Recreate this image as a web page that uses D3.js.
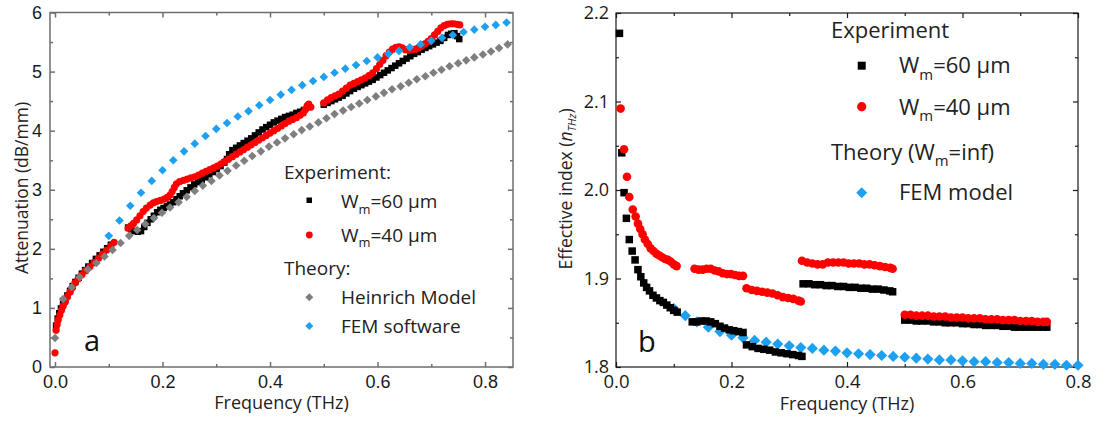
<!DOCTYPE html>
<html><head><meta charset="utf-8">
<script src="https://cdn.jsdelivr.net/npm/d3@7"></script>
<style>body{margin:0;background:#fff}svg{display:block}</style>
</head><body>
<svg id="chart" width="1103" height="421"></svg>
<script>
// ---------------- DATA: panel a (attenuation, dB/mm vs THz) ----------------
const xTicksMajorA = [0, 0.2, 0.4, 0.6, 0.8];
const xTicksMinorA = [0.1, 0.3, 0.5, 0.7];
const yTicksMajorA = [0, 1, 2, 3, 4, 5, 6];
const yTicksMinorA = [0.5, 1.5, 2.5, 3.5, 4.5, 5.5];

const exp60Attenuation = [
 [0.002,0.70],[0.005,0.82],[0.008,0.91],[0.011,0.99],[0.015,1.07],[0.019,1.14],[0.023,1.21],[0.028,1.29],[0.033,1.37],[0.038,1.44],
 [0.044,1.51],[0.050,1.58],[0.056,1.64],[0.062,1.70],[0.069,1.76],[0.076,1.83],[0.083,1.89],[0.090,1.95],[0.097,2.01],[0.104,2.07],
 [0.136,2.36],[0.142,2.33],[0.148,2.30],[0.154,2.29],[0.160,2.30],[0.166,2.37],[0.172,2.44],[0.178,2.50],[0.184,2.56],[0.190,2.62],
 [0.196,2.66],[0.202,2.69],[0.208,2.72],[0.214,2.75],[0.220,2.79],[0.226,2.84],[0.232,2.89],[0.238,2.94],[0.245,2.99],[0.252,3.04],
 [0.259,3.09],[0.266,3.13],[0.273,3.17],[0.280,3.21],[0.287,3.26],[0.294,3.30],[0.301,3.35],[0.308,3.40],[0.315,3.46],[0.320,3.52],
 [0.324,3.60],[0.330,3.67],[0.337,3.71],[0.344,3.75],[0.351,3.79],[0.358,3.83],[0.365,3.87],[0.372,3.92],[0.379,3.97],[0.386,4.02],
 [0.393,4.06],[0.400,4.10],[0.407,4.14],[0.414,4.17],[0.421,4.20],[0.428,4.23],[0.435,4.25],[0.442,4.27],[0.449,4.30],[0.456,4.32],
 [0.463,4.35],[0.470,4.40],
 [0.500,4.44],[0.507,4.47],[0.514,4.50],[0.521,4.53],[0.528,4.56],[0.535,4.59],[0.542,4.63],[0.549,4.67],[0.556,4.71],[0.563,4.74],
 [0.570,4.77],[0.577,4.80],[0.584,4.83],[0.591,4.86],[0.598,4.90],[0.605,4.94],[0.612,4.98],[0.619,5.02],[0.626,5.06],[0.633,5.10],
 [0.640,5.14],[0.647,5.18],[0.654,5.22],[0.661,5.26],[0.668,5.30],[0.675,5.33],[0.682,5.37],[0.689,5.40],[0.696,5.43],[0.703,5.46],
 [0.710,5.49],[0.717,5.52],[0.724,5.57],[0.731,5.62],[0.737,5.64],[0.743,5.65],[0.748,5.60],[0.752,5.55]
];
const exp40Attenuation = [
 [0.000,0.24],[0.002,0.62],[0.004,0.72],[0.006,0.80],[0.009,0.88],[0.012,0.96],[0.015,1.03],[0.019,1.10],[0.023,1.19],[0.028,1.27],
 [0.032,1.34],[0.037,1.42],[0.043,1.49],[0.050,1.56],[0.057,1.63],[0.065,1.70],[0.073,1.77],[0.081,1.84],[0.088,1.91],[0.096,1.98],
 [0.104,2.05],[0.110,2.11],
 [0.136,2.35],[0.141,2.39],[0.146,2.43],[0.152,2.49],[0.158,2.56],[0.164,2.63],[0.170,2.69],[0.177,2.74],[0.183,2.78],[0.189,2.80],
 [0.196,2.82],[0.203,2.84],[0.209,2.87],[0.214,2.91],[0.218,2.97],[0.222,3.04],[0.226,3.10],[0.232,3.14],[0.239,3.16],[0.246,3.18],
 [0.253,3.20],[0.260,3.22],[0.267,3.25],[0.274,3.28],[0.281,3.31],[0.288,3.34],[0.295,3.37],[0.302,3.40],[0.309,3.44],[0.316,3.48],
 [0.323,3.52],[0.330,3.56],[0.337,3.60],[0.344,3.64],[0.351,3.68],[0.358,3.72],[0.365,3.76],[0.372,3.80],[0.379,3.84],[0.386,3.88],
 [0.393,3.92],[0.400,3.96],[0.407,4.00],[0.414,4.04],[0.421,4.08],[0.428,4.12],[0.435,4.16],[0.442,4.19],[0.449,4.22],[0.456,4.26],
 [0.462,4.30],[0.466,4.36],[0.469,4.42],[0.472,4.45],[0.476,4.40],
 [0.500,4.47],[0.507,4.52],[0.514,4.56],[0.521,4.59],[0.528,4.62],[0.535,4.67],[0.542,4.72],[0.549,4.77],[0.556,4.80],[0.563,4.83],
 [0.570,4.86],[0.577,4.89],[0.584,4.93],[0.591,4.98],[0.598,5.05],[0.604,5.12],[0.610,5.19],[0.616,5.27],[0.622,5.33],[0.628,5.38],
 [0.634,5.41],[0.640,5.42],[0.646,5.40],[0.652,5.37],[0.658,5.36],[0.664,5.37],[0.670,5.38],[0.676,5.40],[0.682,5.43],[0.688,5.47],
 [0.694,5.51],[0.700,5.56],[0.706,5.62],[0.712,5.68],[0.718,5.74],[0.724,5.78],[0.730,5.80],[0.736,5.81],[0.742,5.81],[0.748,5.80],
 [0.753,5.79]
];
const heinrichAttenuation = [
 [0.000,0.49],[0.015,1.15],[0.031,1.35],[0.046,1.52],[0.061,1.65],[0.077,1.76],[0.092,1.87],[0.107,1.98],[0.122,2.10],[0.138,2.22],
 [0.153,2.32],[0.168,2.42],[0.184,2.52],[0.199,2.61],[0.214,2.70],[0.230,2.79],[0.245,2.88],[0.260,2.98],[0.275,3.07],[0.291,3.15],
 [0.306,3.24],[0.321,3.32],[0.337,3.41],[0.352,3.49],[0.367,3.57],[0.383,3.65],[0.398,3.73],[0.413,3.80],[0.428,3.87],[0.444,3.94],
 [0.459,4.01],[0.474,4.07],[0.490,4.14],[0.505,4.21],[0.520,4.28],[0.536,4.34],[0.551,4.40],[0.566,4.46],[0.581,4.52],[0.597,4.58],
 [0.612,4.64],[0.627,4.70],[0.643,4.75],[0.658,4.81],[0.673,4.87],[0.689,4.92],[0.704,4.98],[0.719,5.03],[0.734,5.09],[0.750,5.14],
 [0.765,5.19],[0.780,5.24],[0.796,5.29],[0.811,5.34],[0.826,5.40],[0.842,5.46]
];
const femAttenuation = [
 [0.10,2.22],[0.12,2.48],[0.14,2.73],[0.16,2.95],[0.18,3.15],[0.20,3.33],[0.22,3.50],[0.24,3.65],[0.26,3.78],[0.28,3.91],
 [0.30,4.03],[0.32,4.13],[0.34,4.24],[0.36,4.33],[0.38,4.43],[0.40,4.52],[0.42,4.61],[0.44,4.69],[0.46,4.77],[0.48,4.84],
 [0.50,4.91],[0.52,4.98],[0.54,5.05],[0.56,5.11],[0.58,5.18],[0.60,5.24],[0.62,5.30],[0.64,5.35],[0.66,5.41],[0.68,5.46],
 [0.70,5.52],[0.72,5.57],[0.74,5.62],[0.76,5.67],[0.78,5.71],[0.80,5.76],[0.82,5.79],[0.84,5.83]
];

// ---------------- DATA: panel b (effective index vs THz) ----------------
const xTicksMajorB = [0, 0.2, 0.4, 0.6, 0.8];
const xTicksMinorB = [0.1, 0.3, 0.5, 0.7];
const yTicksMajorB = [1.8, 1.9, 2.0, 2.1, 2.2];
const yTicksMinorB = [1.85, 1.95, 2.05, 2.15];

const exp60Index = [
 [0.006,2.177],[0.010,2.042],[0.014,1.997],[0.018,1.968],[0.023,1.944],[0.028,1.931],[0.033,1.921],[0.038,1.910],[0.043,1.902],[0.048,1.895],
 [0.053,1.890],[0.058,1.886],[0.064,1.881],[0.070,1.878],[0.076,1.875],[0.082,1.873],[0.088,1.870],[0.094,1.867],[0.100,1.864],[0.106,1.862],
 [0.132,1.851],[0.140,1.851],[0.148,1.852],[0.156,1.852],[0.164,1.851],[0.172,1.849],[0.180,1.846],[0.188,1.844],[0.196,1.842],[0.204,1.841],
 [0.212,1.840],[0.220,1.839],
 [0.226,1.825],[0.236,1.823],[0.246,1.821],[0.256,1.820],[0.266,1.819],[0.276,1.817],[0.286,1.816],[0.296,1.815],[0.306,1.814],[0.316,1.813],
 [0.322,1.812],
 [0.324,1.894],[0.334,1.894],[0.344,1.893],[0.354,1.893],[0.364,1.892],[0.374,1.892],[0.384,1.891],[0.394,1.891],[0.404,1.890],[0.414,1.890],
 [0.424,1.889],[0.434,1.889],[0.444,1.888],[0.454,1.888],[0.464,1.887],[0.474,1.886],[0.479,1.885],
 [0.500,1.853],[0.510,1.853],[0.520,1.852],[0.530,1.852],[0.540,1.852],[0.550,1.851],[0.560,1.851],[0.570,1.850],[0.580,1.850],[0.590,1.850],
 [0.600,1.849],[0.610,1.849],[0.620,1.848],[0.630,1.848],[0.640,1.847],[0.650,1.847],[0.660,1.847],[0.670,1.846],[0.680,1.846],[0.690,1.845],
 [0.700,1.845],[0.710,1.845],[0.720,1.845],[0.730,1.845],[0.740,1.845],[0.746,1.845]
];
const exp40Index = [
 [0.008,2.092],[0.014,2.046],[0.019,2.015],[0.023,1.992],[0.029,1.978],[0.034,1.970],[0.038,1.962],[0.042,1.956],[0.046,1.950],[0.050,1.944],
 [0.055,1.939],[0.060,1.934],[0.065,1.931],[0.070,1.928],[0.075,1.926],[0.080,1.924],[0.085,1.922],[0.090,1.921],[0.095,1.919],[0.100,1.916],
 [0.105,1.914],
 [0.136,1.911],[0.143,1.910],[0.150,1.910],[0.157,1.911],[0.164,1.911],[0.171,1.909],[0.178,1.908],[0.185,1.906],[0.192,1.905],[0.199,1.905],
 [0.206,1.904],[0.213,1.903],[0.220,1.903],
 [0.226,1.889],[0.235,1.887],[0.244,1.886],[0.253,1.885],[0.262,1.884],[0.271,1.883],[0.280,1.881],[0.289,1.879],[0.298,1.878],[0.307,1.877],
 [0.316,1.875],[0.320,1.874],
 [0.322,1.920],[0.331,1.918],[0.340,1.917],[0.349,1.916],[0.358,1.916],[0.367,1.918],[0.376,1.918],[0.385,1.918],[0.394,1.918],[0.403,1.917],
 [0.412,1.917],[0.421,1.917],[0.430,1.916],[0.439,1.916],[0.448,1.915],[0.457,1.914],[0.466,1.913],[0.475,1.912],[0.479,1.911],
 [0.500,1.859],[0.510,1.859],[0.520,1.858],[0.530,1.858],[0.540,1.858],[0.550,1.857],[0.560,1.857],[0.570,1.857],[0.580,1.856],[0.590,1.856],
 [0.600,1.856],[0.610,1.855],[0.620,1.855],[0.630,1.855],[0.640,1.854],[0.650,1.854],[0.660,1.854],[0.670,1.853],[0.680,1.853],[0.690,1.853],
 [0.700,1.852],[0.710,1.852],[0.720,1.852],[0.730,1.851],[0.740,1.851],[0.746,1.851]
];
const femIndex = [
 [0.10,1.866],[0.12,1.858],[0.14,1.851],[0.16,1.845],[0.18,1.840],[0.20,1.836],[0.22,1.833],[0.24,1.830],[0.26,1.828],[0.28,1.826],
 [0.30,1.824],[0.32,1.822],[0.34,1.821],[0.36,1.819],[0.38,1.818],[0.40,1.816],[0.42,1.815],[0.44,1.814],[0.46,1.813],[0.48,1.812],
 [0.50,1.811],[0.52,1.810],[0.54,1.809],[0.56,1.808],[0.58,1.808],[0.60,1.807],[0.62,1.806],[0.64,1.806],[0.66,1.805],[0.68,1.805],
 [0.70,1.804],[0.72,1.804],[0.74,1.803],[0.76,1.803],[0.78,1.802],[0.80,1.802]
];

// ---------------- DRAWING ----------------
const BLACK = "#000000", RED = "#ff0000", GRAY = "#7f7f7f", BLUE = "#1ea0f2";
const svg = d3.select("#chart");
svg.append("rect").attr("width", 1103).attr("height", 421).attr("fill", "#fff");

const diamondPath = h => `M0,${-h}L${h},0L0,${h}L${-h},0Z`;
const sansTitle = "'Open Sans', 'Noto Sans', sans-serif";
const arial = "'Liberation Sans', Arial, sans-serif";

function styleAxis(g, color, width, font, size) {
  g.select(".domain").remove();
  g.selectAll(".tick line").attr("stroke", color).attr("stroke-width", width);
  g.selectAll("text").attr("font-family", font).attr("font-size", size).attr("fill", "#1a1a1a");
}

function panelAxes(x, y, o) {
  const [x0, x1] = x.range(), [y0, y1] = y.range();
  const ax = svg.append("g");
  const add = (axis, tr, vals, size, fmt, pad, fs) => {
    ax.append("g").attr("transform", tr)
      .call(axis.tickValues(vals).tickSize(-size).tickPadding(pad).tickFormat(fmt))
      .call(g => styleAxis(g, o.color, o.width, o.font, fs));
  };
  const none = () => "";
  add(d3.axisBottom(x), `translate(0,${y0})`, o.xMajor, 5, o.xFmt, o.xPad, o.xFontSize);
  add(d3.axisBottom(x), `translate(0,${y0})`, o.xMinor, 3, none, 0, 10);
  add(d3.axisTop(x), `translate(0,${y1})`, o.xMajor, 5, none, 0, 10);
  add(d3.axisTop(x), `translate(0,${y1})`, o.xMinor, 3, none, 0, 10);
  add(d3.axisLeft(y), `translate(${x0},0)`, o.yMajor, 5, o.yFmt, o.yPad, o.yFontSize);
  add(d3.axisLeft(y), `translate(${x0},0)`, o.yMinor, 3, none, 0, 10);
  add(d3.axisRight(y), `translate(${x1},0)`, o.yMajor, 5, none, 0, 10);
  add(d3.axisRight(y), `translate(${x1},0)`, o.yMinor, 3, none, 0, 10);
  svg.append("rect").attr("x", x0).attr("y", y1).attr("width", x1 - x0).attr("height", y0 - y1)
    .attr("fill", "none").attr("stroke", o.color).attr("stroke-width", o.width);
}

function squares(data, x, y, s, color) {
  svg.append("g").selectAll("rect").data(data).join("rect")
    .attr("x", d => x(d[0]) - s / 2).attr("y", d => y(d[1]) - s / 2)
    .attr("width", s).attr("height", s).attr("fill", color);
}
function circles(data, x, y, r, color) {
  svg.append("g").selectAll("circle").data(data).join("circle")
    .attr("cx", d => x(d[0])).attr("cy", d => y(d[1])).attr("r", r).attr("fill", color);
}
function diamonds(data, x, y, h, color) {
  svg.append("g").selectAll("path").data(data).join("path")
    .attr("transform", d => `translate(${x(d[0])},${y(d[1])})`)
    .attr("d", diamondPath(h)).attr("fill", color);
}

// ---- Panel a ----
const xA = d3.scaleLinear().domain([-0.0093, 0.852]).range([50, 513]);
const yA = d3.scaleLinear().domain([0, 6]).range([367, 12.5]);
panelAxes(xA, yA, {color: "#6e6e6e", width: 1.5, font: arial, xFontSize: 18, yFontSize: 18,
  xMajor: xTicksMajorA, xMinor: xTicksMinorA, yMajor: yTicksMajorA, yMinor: yTicksMinorA,
  xFmt: d3.format(".1f"), yFmt: d3.format("d"), xPad: 8, yPad: 8});

squares(exp60Attenuation, xA, yA, 6.5, BLACK);
circles(exp40Attenuation, xA, yA, 3.6, RED);
diamonds(heinrichAttenuation, xA, yA, 4.3, GRAY);
diamonds(femAttenuation, xA, yA, 4.3, BLUE);

svg.append("text").attr("x", 281.5).attr("y", 409).attr("text-anchor", "middle")
  .attr("font-family", sansTitle).attr("font-size", 18).attr("fill", "#222").text("Frequency (THz)");
svg.append("text").attr("transform", "translate(28,188) rotate(-90)").attr("text-anchor", "middle")
  .attr("font-family", sansTitle).attr("font-size", 17.5).attr("fill", "#222").text("Attenuation (dB/mm)");
svg.append("text").attr("x", 84).attr("y", 351).attr("font-family", sansTitle).attr("font-size", 29)
  .attr("fill", "#111").text("a");

// legend helper
function legendText(x, y, size, parts) {
  const t = svg.append("text").attr("x", x).attr("y", y).attr("font-family", sansTitle)
    .attr("font-size", size).attr("fill", "#222");
  parts.forEach(p => {
    const ts = t.append("tspan").text(p.t);
    if (p.sub) ts.attr("font-size", size * 0.68).attr("dy", size * 0.3);
    if (p.up) ts.attr("dy", -size * 0.3);
  });
  return t;
}
const legA = 19;
legendText(284, 178.5, legA, [{t: "Experiment:"}]);
legendText(341, 208, legA, [{t: "W"}, {t: "m", sub: true}, {t: "=60 μm", up: true}]);
legendText(341, 241.5, legA, [{t: "W"}, {t: "m", sub: true}, {t: "=40 μm", up: true}]);
legendText(284, 275, legA, [{t: "Theory:"}]);
legendText(341, 303.5, legA, [{t: "Heinrich Model"}]);
legendText(341, 332.5, legA, [{t: "FEM software"}]);
svg.append("rect").attr("x", 306.5).attr("y", 197.5).attr("width", 5.5).attr("height", 5.5).attr("fill", BLACK);
svg.append("circle").attr("cx", 309.3).attr("cy", 235).attr("r", 3.4).attr("fill", RED);
svg.append("path").attr("transform", "translate(309.3,297.3)").attr("d", diamondPath(4)).attr("fill", GRAY);
svg.append("path").attr("transform", "translate(309.3,326)").attr("d", diamondPath(4)).attr("fill", BLUE);

// ---- Panel b ----
const xB = d3.scaleLinear().domain([0, 0.8]).range([616, 1078]);
const yB = d3.scaleLinear().domain([1.8, 2.2]).range([367, 13]);
panelAxes(xB, yB, {color: "#1a1a1a", width: 1.2, font: sansTitle, xFontSize: 18.5, yFontSize: 18,
  xMajor: xTicksMajorB, xMinor: xTicksMinorB, yMajor: yTicksMajorB, yMinor: yTicksMinorB,
  xFmt: d3.format(".1f"), yFmt: d3.format(".1f"), xPad: 8, yPad: 7});

diamonds(femIndex, xB, yB, 5.6, BLUE);
squares(exp60Index, xB, yB, 7.5, BLACK);
circles(exp40Index, xB, yB, 4.3, RED);

svg.append("text").attr("x", 847).attr("y", 410).attr("text-anchor", "middle")
  .attr("font-family", sansTitle).attr("font-size", 18).attr("fill", "#222").text("Frequency (THz)");
{
  const t = svg.append("text").attr("transform", "translate(572,189) rotate(-90)").attr("text-anchor", "middle")
    .attr("font-family", sansTitle).attr("font-size", 17.5).attr("fill", "#222");
  t.append("tspan").text("Effective index (");
  t.append("tspan").attr("font-style", "italic").text("n");
  t.append("tspan").attr("font-style", "italic").attr("font-size", 11).attr("dy", 4).text("THz");
  t.append("tspan").attr("dy", -4).text(")");
}
svg.append("text").attr("x", 638).attr("y", 352).attr("font-family", sansTitle).attr("font-size", 29)
  .attr("fill", "#111").text("b");

const legB = 22;
legendText(831, 38, legB, [{t: "Experiment"}]);
legendText(899, 73, legB, [{t: "W"}, {t: "m", sub: true}, {t: "=60 μm", up: true}]);
legendText(899, 114.5, legB, [{t: "W"}, {t: "m", sub: true}, {t: "=40 μm", up: true}]);
legendText(831, 159.5, legB, [{t: "Theory (W"}, {t: "m", sub: true}, {t: "=inf)", up: true}]);
legendText(899, 199.5, legB, [{t: "FEM model"}]);
svg.append("rect").attr("x", 857.7).attr("y", 61.7).attr("width", 8).attr("height", 8).attr("fill", BLACK);
svg.append("circle").attr("cx", 861.7).attr("cy", 106.7).attr("r", 4.6).attr("fill", RED);
svg.append("path").attr("transform", "translate(861.7,192.7)").attr("d", diamondPath(5.5)).attr("fill", BLUE);
</script>
</body></html>
